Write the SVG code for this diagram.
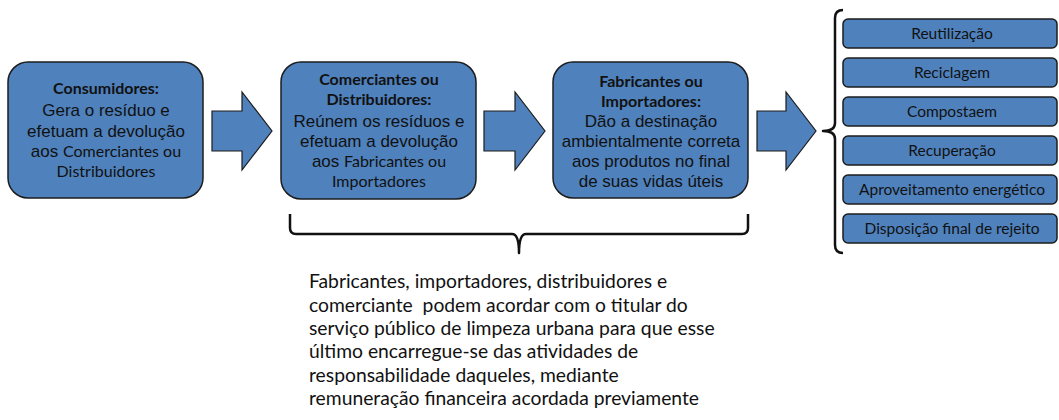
<svg xmlns="http://www.w3.org/2000/svg" width="1059" height="420" viewBox="0 0 1059 420">
<style>
.box{fill:#4f81bd;stroke:#1c1c1c;stroke-width:1.5}
.arr{fill:#4f81bd;stroke:#1c1c1c;stroke-width:1.2;stroke-linejoin:miter}
.br{fill:none;stroke:#111;stroke-width:2.5;stroke-linejoin:round}
.c{font-family:Lato,"Liberation Sans",sans-serif;fill:#111;text-anchor:middle}
.a{font-family:"Liberation Sans",Arial,sans-serif;fill:#111;text-anchor:middle;font-size:17px}
.b{font-weight:bold;font-size:16px}
.m{font-size:16px}
.s{font-family:Lato,"Liberation Sans",sans-serif;fill:#111;text-anchor:middle;font-size:15.5px}
.t{font-family:Lato,"Liberation Sans",sans-serif;fill:#111;font-size:19.3px}
</style>
<g id="consumidores">
<rect class="box" x="8" y="62" width="195" height="136" rx="20"/>
<text class="c b" x="106" y="94">Consumidores:</text>
<text class="a" x="106" y="116">Gera o resíduo e</text>
<text class="a" x="106" y="137">efetuam a devolução</text>
<text class="a" x="106" y="157">aos <tspan class="c m">Comerciantes ou</tspan></text>
<text class="c m" x="106" y="177">Distribuidores</text>
</g>
<g id="comerciantes">
<rect class="box" x="281" y="62" width="195" height="137" rx="20"/>
<text class="c b" x="379" y="85">Comerciantes ou</text>
<text class="c b" x="379" y="105">Distribuidores:</text>
<text class="a" x="379" y="127">Reúnem os resíduos e</text>
<text class="a" x="379" y="147">efetuam a devolução</text>
<text class="a" x="379" y="167">aos <tspan class="c m">Fabricantes ou</tspan></text>
<text class="c m" x="379" y="187">Importadores</text>
</g>
<g id="fabricantes">
<rect class="box" x="553" y="62" width="195" height="136" rx="20"/>
<text class="c b" x="651" y="87">Fabricantes ou</text>
<text class="c b" x="651" y="107">Importadores:</text>
<text class="a" x="651" y="127">Dão a destinação</text>
<text class="a" x="651" y="147">ambientalmente correta</text>
<text class="a" x="651" y="167">aos produtos no final</text>
<text class="a" x="651" y="187">de suas vidas úteis</text>
</g>
<g id="destinos">
<rect class="box" x="843" y="19" width="214" height="29" rx="5"/>
<text class="s" x="952" y="39">Reutilização</text>
<rect class="box" x="843" y="58" width="214" height="29" rx="5"/>
<text class="s" x="952" y="78">Reciclagem</text>
<rect class="box" x="843" y="97" width="214" height="29" rx="5"/>
<text class="s" x="952" y="117">Compostaem</text>
<rect class="box" x="843" y="136" width="214" height="29" rx="5"/>
<text class="s" x="952" y="156">Recuperação</text>
<rect class="box" x="843" y="175" width="214" height="29" rx="5"/>
<text class="s" x="952" y="195">Aproveitamento energético</text>
<rect class="box" x="843" y="214" width="214" height="29" rx="5"/>
<text class="s" x="952" y="234">Disposição final de rejeito</text>
</g>
<g id="nota">
<text class="t" x="309" y="288">Fabricantes, importadores, distribuidores e</text>
<text class="t" x="309" y="312" xml:space="preserve">comerciante  podem acordar com o titular do</text>
<text class="t" x="309" y="335">serviço público de limpeza urbana para que esse</text>
<text class="t" x="309" y="358">último encarregue-se das atividades de</text>
<text class="t" x="309" y="382">responsabilidade daqueles, mediante</text>
<text class="t" x="309" y="405">remuneração financeira acordada previamente</text>
</g>
<g id="connectors">
<path class="arr" d="M212,111 L242,111 L242,92 L272,131 L242,170 L242,151 L212,151 Z"/>
<path class="arr" d="M484,111 L515,111 L515,92 L545,131 L515,170 L515,151 L484,151 Z"/>
<path class="arr" d="M757,111 L786,111 L786,92 L816,131 L786,170 L786,151 L757,151 Z"/>
<path class="br" d="M843,10 Q835,10 835,18 L835,123 Q835,131 823,131 Q835,131 835,139 L835,245 Q835,253 843,253"/>
<path class="br" d="M290,214 L290,228 Q290,234 296,234 L512,234 Q519,234 519,253 Q519,234 526,234 L742,234 Q748,234 748,228 L748,214"/>
</g>
</svg>
